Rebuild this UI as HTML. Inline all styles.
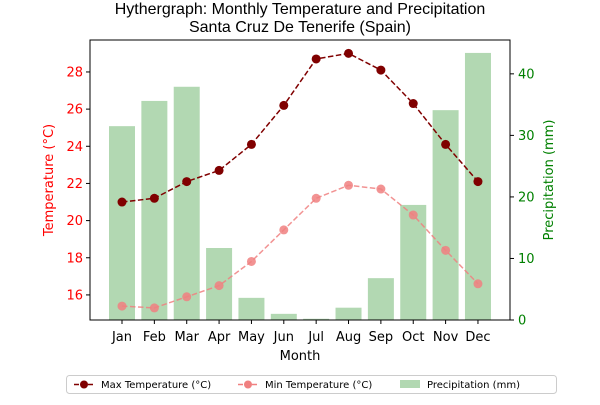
<!DOCTYPE html>
<html><head><meta charset="utf-8"><style>
body{margin:0;background:#fff;font-family:"Liberation Sans","DejaVu Sans",sans-serif}
</style></head><body>
<svg id="c" width="600" height="400" xmlns="http://www.w3.org/2000/svg" font-family="DejaVu Sans, Liberation Sans, sans-serif"></svg>
<script>
const months=["Jan","Feb","Mar","Apr","May","Jun","Jul","Aug","Sep","Oct","Nov","Dec"];
const maxTemp=[21.0,21.2,22.1,22.7,24.1,26.2,28.7,29.0,28.1,26.3,24.1,22.1];
const minTemp=[15.4,15.3,15.9,16.5,17.8,19.5,21.2,21.9,21.7,20.3,18.4,16.6];
const precip=[31.5,35.6,37.9,11.7,3.6,1.0,0.2,2.0,6.8,18.7,34.1,43.4];
const tempTicks=[16,18,20,22,24,26,28];
const precipTicks=[0,10,20,30,40];
const svg=document.getElementById('c');
const NS='http://www.w3.org/2000/svg';
const L=90,R=510,T=40,B=320;
const tMin=14.65,tMax=29.72,pMax=45.5;
const x=i=>122+i*32.36;
const yT=v=>B-(v-tMin)/(tMax-tMin)*(B-T);
const yP=v=>B-v/pMax*(B-T);
function el(tag,a,txt){const e=document.createElementNS(NS,tag);for(const k in a)e.setAttribute(k,a[k]);if(txt!=null)e.textContent=txt;svg.appendChild(e);return e;}
let e;
e=el('text',{x:300,y:14,'text-anchor':'middle','font-size':16,'font-family':'Liberation Sans, sans-serif'},'Hythergraph: Monthly Temperature and Precipitation');


e=el('text',{x:300,y:32,'text-anchor':'middle','font-size':16,'font-family':'Liberation Sans, sans-serif'},'Santa Cruz De Tenerife (Spain)');


precip.forEach((v,i)=>{
 const b=el('rect',{x:x(i)-13,y:yP(v),width:26,height:B-yP(v),fill:'#b2d8b2'});
 
 
});
function line(data,color,name,op){
 const p=el('polyline',{points:data.map((v,i)=>x(i)+','+yT(v)).join(' '),fill:'none',stroke:color,'stroke-width':1.5,'stroke-dasharray':'5.5,2.5',opacity:op});
 
 
 data.forEach((v,i)=>{const c=el('circle',{cx:x(i),cy:yT(v),r:4.5,fill:color,opacity:op});
 
 });
}
line(minTemp,'#f08080','min-temp',0.85);
line(maxTemp,'#800000','max-temp',1);
e=el('rect',{x:L,y:T,width:R-L,height:B-T,fill:'none',stroke:'#000','stroke-width':1});


tempTicks.forEach(t=>{el('line',{x1:L-4,x2:L,y1:yT(t),y2:yT(t),stroke:'#000'});
 const l=el('text',{x:L-7,y:yT(t)+4.5,'text-anchor':'end','font-size':13,fill:'red'},t);
 
 });
precipTicks.forEach(t=>{el('line',{x1:R,x2:R+4,y1:yP(t),y2:yP(t),stroke:'#000'});
 const l=el('text',{x:R+8,y:yP(t)+4.5,'font-size':13,fill:'green'},t);
 
 });
months.forEach((m,i)=>{el('line',{x1:x(i),x2:x(i),y1:B,y2:B+4,stroke:'#000'});
 const l=el('text',{x:x(i),y:B+21,'text-anchor':'middle','font-size':13},m);
 
 });
e=el('text',{x:300,y:360,'text-anchor':'middle','font-size':13},'Month');


e=el('text',{x:0,y:0,'text-anchor':'middle','font-size':13,fill:'red',transform:'translate(53,180) rotate(-90)'},'Temperature (°C)');


e=el('text',{x:0,y:0,'text-anchor':'middle','font-size':13,fill:'green',transform:'translate(553,180) rotate(-90)'},'Precipitation (mm)');


e=el('rect',{x:66.5,y:375.5,width:490,height:18,rx:3,fill:'#fff',stroke:'#ccc'});


const lg=[[74,'#800000','Max Temperature (°C)','line'],[238,'#f08080','Min Temperature (°C)','line'],[400,'#b2d8b2','Precipitation (mm)','bar']];
lg.forEach(([lx,c,t,k])=>{
 if(k==='line'){el('line',{x1:lx,x2:lx+20,y1:384.5,y2:384.5,stroke:c,'stroke-width':1.5,'stroke-dasharray':'5,2'});el('circle',{cx:lx+10,cy:384.5,r:4,fill:c});}
 else el('rect',{x:lx,y:380,width:20,height:8,fill:c});
 const tx=el('text',{x:lx+27,y:388,'font-size':10},t);
 
 
});
</script>
</body></html>
